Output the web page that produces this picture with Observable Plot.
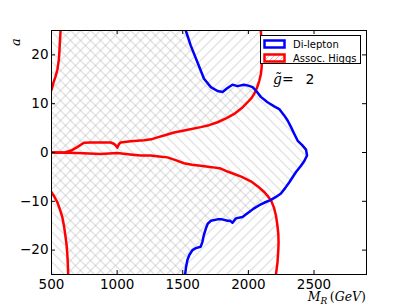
<!DOCTYPE html>
<html><head><meta charset="utf-8">
<script src="https://cdn.jsdelivr.net/npm/d3@7"></script>
<script src="https://cdn.jsdelivr.net/npm/@observablehq/plot@0.6"></script>
<style>
html,body{margin:0;padding:0;background:#fff}
#chart svg{display:block}
</style>
</head><body><div id="chart"></div>
<script>
// ---- data ----
const xDomain = [500, 2900];
const yDomain = [-25, 25];
const xTicks = [500, 1000, 1500, 2000, 2500];
const yTicks = [-20, -10, 0, 10, 20];
const seriesNames = ["Di-lepton", "Assoc. Higgs"];
const gTildeValue = 2;

// Di-lepton exclusion boundary (top to bottom)
const diLeptonX = [1523,1561,1612,1662,1714,1765,1803,1841,1879,1917,1966,2000,2032,2060,2095,2146,2200,2235,2273,2300,2325,2350,2376,2410,2439,2447,2425,2401,2363,2312,2280,2248,2210,2172,2120,2083,2040,2006,1955,1905,1879,1860,1841,1800,1765,1714,1690,1676,1660,1650,1637,1600,1574,1550,1536,1525,1518];
const diLeptonY = [25,21.9,18.5,15.1,13.4,12.6,12.4,13.2,13.9,13.6,13.9,13.7,13.4,12.6,11.4,10.3,9.4,8.9,7.6,6.5,5.2,3.8,2.4,1.5,0.6,-0.6,-1.8,-2.7,-4,-6.1,-7.3,-8.4,-9.1,-9.7,-10.3,-10.8,-11.5,-12.2,-13.2,-13.5,-14.4,-14,-14,-13.7,-13.7,-14,-14.6,-15.6,-17,-18.3,-19.3,-19.6,-20,-21,-22,-23.5,-25];

// Assoc. Higgs boundaries
const higgsUpperLeftX = [569,566,563,560,556,545,531,515,500];
const higgsUpperLeftY = [25,23.5,22.2,20.5,19,17,15.6,14.3,12.8];
const higgsLowerLeftX = [500,520,543,562,582,595,607,615,620,624,627];
const higgsLowerLeftY = [-8.1,-9,-10.1,-11.5,-13.2,-15,-17.3,-19,-20.7,-22.5,-25];
const higgsUpperMidX = [500,600,650,696,747,800,900,950,975,988,1001,1014,1027,1103,1205,1260,1307,1370,1434,1530,1637,1700,1765,1830,1892,1950,1994,2025,2044,2065,2083,2095,2101,2103,2103,2100,2095];
const higgsUpperMidY = [0,0,0.4,1.1,2,2.05,2.05,2.05,1.8,1.5,1.0,1.7,2.05,2.3,2.5,2.7,3.1,3.6,4.1,4.6,5.2,5.6,6.2,7,7.9,9.1,10.3,11.2,12,13.2,14.7,16,17.4,19,20.8,23,25];
const higgsLowerMidX = [500,700,874,1001,1100,1179,1256,1320,1383,1440,1510,1570,1637,1720,1790,1841,1892,1950,2019,2070,2121,2150,2172,2195,2210,2220,2228,2230,2228,2222,2210];
const higgsLowerMidY = [0,-0.1,-0.3,-0.1,-0.4,-0.6,-0.6,-0.8,-1,-1.5,-2.2,-2.5,-2.7,-3,-3.3,-3.9,-4.4,-5,-5.9,-6.9,-8.1,-9,-9.8,-11.3,-12.9,-14.7,-16.6,-18.5,-20,-22.5,-25];

// ---- build tables ----
const pts = (xs, ys) => xs.map((x, i) => ({x, y: ys[i]}));
const diLepton = pts(diLeptonX, diLeptonY);
const upperLeft = pts(higgsUpperLeftX, higgsUpperLeftY);
const lowerLeft = pts(higgsLowerLeftX, higgsLowerLeftY);
const upperMid = pts(higgsUpperMidX, higgsUpperMidY);
const lowerMid = pts(higgsLowerMidX, higgsLowerMidY);

const blueRegion = [...diLepton, {x: xDomain[0], y: yDomain[0]}, {x: xDomain[0], y: yDomain[1]}];
const redUpperRegion = [...upperMid, ...upperLeft];
const redLowerRegion = [...lowerMid, ...lowerLeft.slice().reverse()];

const W = 407, H = 305;
const mL = 51, mR = 41, mT = 30, mB = 31;
const innerH = H - mT - mB, innerW = W - mL - mR;
const fmt = d => d < 0 ? "\u2212" + Math.abs(d) : String(d);
const tickLen = 4;

const plot = Plot.plot({
  width: W, height: H,
  marginLeft: mL, marginRight: mR, marginTop: mT, marginBottom: mB,
  x: {domain: xDomain},
  y: {domain: yDomain},
  style: {fontFamily: "DejaVu Sans", fontSize: "13.5px", color: "black", background: "white"},
  marks: [
    Plot.line(blueRegion, {x: "x", y: "y", fill: "url(#hatchBack)", stroke: "none", clip: true}),
    Plot.line(redUpperRegion, {x: "x", y: "y", fill: "url(#hatchFwd)", stroke: "none", clip: true}),
    Plot.line(redLowerRegion, {x: "x", y: "y", fill: "url(#hatchFwd)", stroke: "none", clip: true}),
    Plot.line(upperLeft, {x: "x", y: "y", stroke: "red", strokeWidth: 2.5, clip: true}),
    Plot.line(lowerLeft, {x: "x", y: "y", stroke: "red", strokeWidth: 2.5, clip: true}),
    Plot.line(upperMid, {x: "x", y: "y", stroke: "red", strokeWidth: 2.5, clip: true}),
    Plot.line(lowerMid, {x: "x", y: "y", stroke: "red", strokeWidth: 2.5, clip: true}),
    Plot.line(diLepton, {x: "x", y: "y", stroke: "#0000ff", strokeWidth: 2.5, clip: true}),
    // inward ticks on all four sides
    Plot.ruleX(xTicks, {x: d => d, insetTop: innerH - tickLen, stroke: "black"}),
    Plot.ruleX(xTicks, {x: d => d, insetBottom: innerH - tickLen, stroke: "black"}),
    Plot.ruleY(yTicks, {y: d => d, insetRight: innerW - tickLen, stroke: "black"}),
    Plot.ruleY(yTicks, {y: d => d, insetLeft: innerW - tickLen, stroke: "black"}),
    Plot.axisX({ticks: xTicks, tickSize: 0, tickPadding: 5, tickFormat: fmt, label: null}),
    Plot.axisY({ticks: yTicks, tickSize: 0, tickPadding: 3, tickFormat: fmt, label: null}),
    Plot.frame({stroke: "black", strokeWidth: 1})
  ]
});

const svg = d3.select(plot);
const defs = svg.insert("defs", ":first-child");
function hatch(id, dir, color, sw, s) {
  const p = defs.append("pattern").attr("id", id).attr("patternUnits", "userSpaceOnUse")
    .attr("width", s).attr("height", s);
  const d = dir === "fwd"
    ? `M${-s/4},${s/4}L${s/4},${-s/4}M0,${s}L${s},0M${3*s/4},${5*s/4}L${5*s/4},${3*s/4}`
    : `M${-s/4},${3*s/4}L${s/4},${5*s/4}M0,0L${s},${s}M${3*s/4},${-s/4}L${5*s/4},${s/4}`;
  p.append("path").attr("d", d).attr("stroke", color).attr("stroke-width", sw).attr("fill", "none");
}
hatch("hatchFwd", "fwd", "#b8b8b8", 0.8, 10);
hatch("hatchBack", "back", "#b8b8b8", 0.8, 10);
hatch("hatchLegRed", "fwd", "#f4a0a0", 0.8, 5);

// legend
const lg = svg.append("g").attr("font-family", "DejaVu Sans").attr("font-size", 10).attr("text-anchor", "start");
lg.append("rect").attr("x", 260.5).attr("y", 35.5).attr("width", 100).attr("height", 28)
  .attr("fill", "white").attr("stroke", "black").attr("stroke-width", 1);
const legColors = ["#0000ff", "red"];
const legFills = ["white", "url(#hatchLegRed)"];
seriesNames.forEach((name, i) => {
  const y0 = 40 + i * 14;
  lg.append("rect").attr("x", 264.5).attr("y", y0 + 0.5).attr("width", 20).attr("height", 7)
    .attr("fill", legFills[i]).attr("stroke", legColors[i]).attr("stroke-width", 2.5);
  lg.append("text").attr("x", 293).attr("y", y0 + 8).attr("text-anchor", "start").text(name);
});

// g-tilde annotation
const gt = svg.append("text").attr("x", 273).attr("y", 84).attr("font-size", 14).attr("text-anchor", "start");
gt.append("tspan").attr("font-family", "DejaVu Serif").attr("font-style", "italic").text("g\u0303");
gt.append("tspan").attr("font-family", "DejaVu Sans").text("=");
svg.append("text").attr("x", 310).attr("y", 84).attr("text-anchor", "middle")
  .attr("font-family", "DejaVu Sans").attr("font-size", 14).text(String(gTildeValue));

// axis labels
const xl = svg.append("text").attr("x", W - mR).attr("y", 301).attr("text-anchor", "end")
  .attr("font-family", "DejaVu Serif").attr("font-size", 12.5).attr("font-style", "italic");
xl.append("tspan").text("M");
xl.append("tspan").attr("font-size", 9).attr("dy", 3).text("R");
xl.append("tspan").attr("dy", -3).attr("font-style", "normal").text("\u2009(");
xl.append("tspan").text("GeV");
xl.append("tspan").attr("font-style", "normal").text(")");
svg.append("text").attr("transform", "translate(20,42) rotate(-90)").attr("text-anchor", "middle")
  .attr("font-family", "DejaVu Serif").attr("font-style", "italic").attr("font-size", 13).text("a");

document.getElementById("chart").appendChild(plot);
</script>
</body></html>
